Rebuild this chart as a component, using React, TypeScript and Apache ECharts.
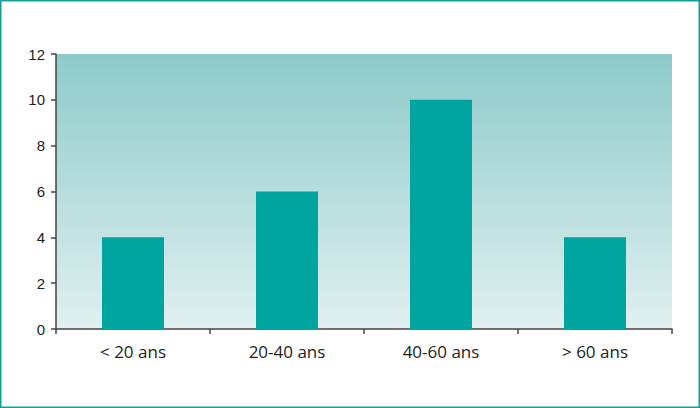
import React, { useEffect, useRef } from "react";
import * as echarts from "echarts";

const categories = ["< 20 ans", "20-40 ans", "40-60 ans", "> 60 ans"];
const values = [4, 6, 10, 4];

export default function App() {
  const ref = useRef<HTMLDivElement>(null);
  useEffect(() => {
    document.body.style.margin = "0";
    const chart = echarts.init(ref.current!, null, { renderer: "svg" });
    chart.setOption({
      animation: false,
      graphic: [
        {
          type: "rect",
          shape: { x: 0.75, y: 0.75, width: 698.5, height: 406.5 },
          style: { fill: "none", stroke: "#149e98", lineWidth: 1.5 },
          silent: true,
        },
      ],
      grid: {
        left: 56,
        right: 28,
        top: 54,
        bottom: 79,
        show: true,
        borderWidth: 0,
        backgroundColor: new echarts.graphic.LinearGradient(0, 0, 0, 1, [
          { offset: 0, color: "#8ecaca" },
          { offset: 1, color: "#e1f0f0" },
        ]),
      },
      xAxis: {
        type: "category",
        data: categories,
        axisLine: { lineStyle: { color: "#444", width: 1.5 } },
        axisTick: { show: true, length: 5, lineStyle: { color: "#444", width: 1.5 } },
        axisLabel: { color: "#222", fontSize: 17, fontFamily: "Open Sans", margin: 14 },
      },
      yAxis: {
        type: "value",
        min: 0,
        max: 12,
        interval: 2,
        axisLine: { show: true, lineStyle: { color: "#444", width: 1.5 } },
        axisTick: { show: true, length: 5, lineStyle: { color: "#444", width: 1.5 } },
        splitLine: { show: false },
        axisLabel: { color: "#222", fontSize: 15, fontFamily: "Liberation Sans", margin: 11 },
      },
      series: [
        {
          type: "bar",
          data: values,
          barWidth: 62,
          itemStyle: { color: "#00a59f" },
        },
      ],
    });
    return () => chart.dispose();
  }, []);
  return <div ref={ref} style={{ width: 700, height: 408 }} />;
}
